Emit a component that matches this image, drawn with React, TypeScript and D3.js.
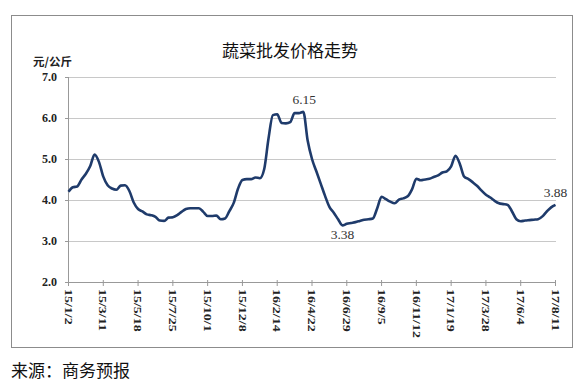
import React from "react";
import * as d3 from "d3";

const tickLabels = ["15/1/2","15/3/11","15/5/18","15/7/25","15/10/1","15/12/8","16/2/14","16/4/22","16/6/29","16/9/5","16/11/12","17/1/19","17/3/28","17/6/4","17/8/11"];
const pointsPerTick = 8;
const prices = [
  4.20,4.31,4.33,4.50,4.64,4.83,5.11,4.93,4.57,4.36,
  4.28,4.25,4.35,4.36,4.22,3.94,3.78,3.72,3.65,3.63,
  3.59,3.50,3.49,3.57,3.58,3.63,3.71,3.78,3.80,3.80,
  3.80,3.71,3.61,3.61,3.62,3.53,3.55,3.73,3.93,4.28,
  4.49,4.51,4.51,4.55,4.53,4.75,5.50,6.07,6.09,5.88,
  5.87,5.90,6.12,6.12,6.15,5.45,5.00,4.70,4.40,4.10,
  3.83,3.69,3.53,3.38,3.42,3.44,3.46,3.49,3.52,3.53,
  3.55,3.80,4.08,4.02,3.96,3.92,4.01,4.04,4.09,4.26,
  4.52,4.48,4.50,4.52,4.56,4.60,4.67,4.70,4.82,5.08,
  4.88,4.57,4.51,4.43,4.34,4.23,4.13,4.06,3.98,3.92,
  3.90,3.88,3.72,3.53,3.48,3.50,3.51,3.52,3.53,3.60,
  3.72,3.82,3.88
];
const yTicks = [2, 3, 4, 5, 6, 7];
const annotations = [
  { i: 54, text: "6.15", pos: "above" },
  { i: 63, text: "3.38", pos: "below" },
  { i: 112, text: "3.88", pos: "above" },
];
const title = "蔬菜批发价格走势";
const unit = "元/公斤";
const source = "来源：商务预报";

export default function App() {
  const W = 584, H = 384;
  const x = d3.scaleLinear().domain([0, prices.length - 1]).range([68.5, 555.5]);
  const y = d3.scaleLinear().domain([2, 7]).range([282, 77]);
  const line = d3.line<number>().x((_, i) => x(i)).y((d) => y(d)).curve(d3.curveMonotoneX);
  const serif = "Liberation Serif, DejaVu Serif, serif";
  const cjk = "Noto Sans CJK SC, Noto Sans, sans-serif";
  return (
    <svg width={W} height={H} style={{ position: "absolute", left: 0, top: 0, background: "#fff" }}>
      <rect x={11.5} y={15.5} width={561} height={332} fill="#fff" stroke="#8c8c8c" strokeWidth={1} />
      <text x={290} y={57} textAnchor="middle" fontFamily={cjk} fontSize={17} fill="#111">{title}</text>
      <text x={33} y={66} fontFamily={cjk} fontSize={11.5} fontWeight="bold" fill="#222">{unit}</text>
      {yTicks.map((t) => (
        <g key={t}>
          {t > 2 && <line x1={68.5} x2={556} y1={Math.round(y(t)) + 0.5} y2={Math.round(y(t)) + 0.5} stroke="#c8c8c8" strokeWidth={1} />}
          <line x1={65} x2={68.5} y1={Math.round(y(t)) + 0.5} y2={Math.round(y(t)) + 0.5} stroke="#999" />
          <text x={57} y={y(t) + 4} textAnchor="end" fontFamily={serif} fontSize={12} fontWeight="bold" fill="#222">{t.toFixed(1)}</text>
        </g>
      ))}
      <line x1={68.5} x2={68.5} y1={77} y2={282} stroke="#999" />
      <line x1={68.5} x2={556} y1={282.5} y2={282.5} stroke="#999" />
      {tickLabels.map((lab, k) => {
        const xi = x(k * pointsPerTick);
        return (
          <g key={lab}>
            <line x1={xi} x2={xi} y1={280} y2={286} stroke="#999" />
            <text transform={`translate(${xi - 3.8},${289}) rotate(90) scale(1.27,1)`} fontFamily={serif} fontSize={11} fontWeight="bold" fill="#222">{lab}</text>
          </g>
        );
      })}
      <path d={line(prices) ?? ""} fill="none" stroke="#1f3b6b" strokeWidth={2.6} strokeLinejoin="round" />
      {annotations.map((a) => (
        <text key={a.text} x={x(a.i) + (a.i === 54 ? 1 : 0)} y={a.pos === "above" ? y(prices[a.i]) - 8 : y(prices[a.i]) + 14}
          textAnchor="middle" fontFamily={serif} fontSize={13.5} fill="#333">{a.text}</text>
      ))}
      <text x={11} y={377} fontFamily={cjk} fontSize={17} fill="#111">{source}</text>
    </svg>
  );
}
